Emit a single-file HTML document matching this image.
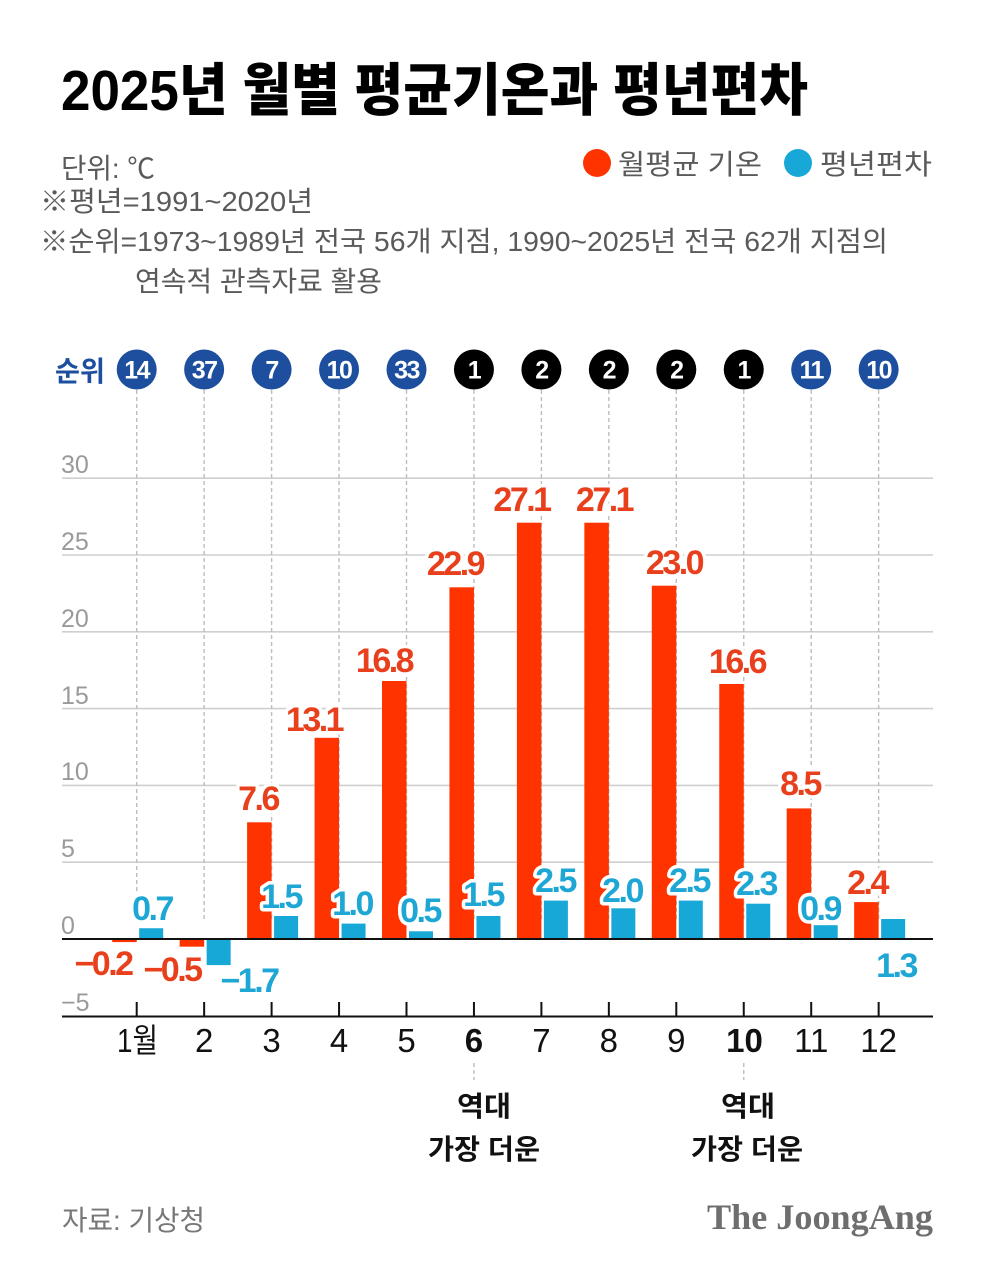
<!DOCTYPE html>
<html><head><meta charset="utf-8"><style>
html,body{margin:0;padding:0;background:#fff;}
svg{display:block;}
.k{font-family:"Liberation Sans","Noto Sans CJK KR",sans-serif;}
.t{font-family:"Liberation Sans","Noto Sans CJK KR",sans-serif;font-weight:900;}
.n{font-family:"Liberation Sans","Noto Sans CJK KR",sans-serif;fill:#5a5a5a;font-size:28px;}
.y{font-family:"Liberation Sans",sans-serif;fill:#9a9a9a;font-size:25px;}
.m{font-family:"Liberation Sans","Noto Sans CJK KR",sans-serif;fill:#111;font-size:33px;text-anchor:middle;}
.lr,.lb{font-family:"Liberation Sans",sans-serif;font-weight:bold;font-size:34px;text-anchor:middle;letter-spacing:-2.5px;stroke:#fff;stroke-width:7px;stroke-linejoin:round;paint-order:stroke;}
.lr{fill:#e8401c;}
.lb{fill:#1ea7d4;}
.rk{font-family:"Liberation Sans",sans-serif;font-weight:bold;font-size:25px;fill:#fff;text-anchor:middle;letter-spacing:-1.5px;}
.hl{font-family:"Liberation Sans","Noto Sans CJK KR",sans-serif;font-weight:bold;font-size:28px;fill:#111;text-anchor:middle;}
</style></head><body>
<svg width="1000" height="1275" viewBox="0 0 1000 1275" xmlns="http://www.w3.org/2000/svg">
<rect width="1000" height="1275" fill="#fff"/>
<!-- Title -->
<text class="t" x="61" y="110" font-size="57" textLength="747" lengthAdjust="spacingAndGlyphs" fill="#000">2025년 월별 평균기온과 평년편차</text>
<!-- Notes -->
<text class="n" x="61" y="178" textLength="94" lengthAdjust="spacingAndGlyphs">단위: ℃</text>
<text class="n" x="40" y="211" textLength="273" lengthAdjust="spacingAndGlyphs">※평년=1991~2020년</text>
<text class="n" x="40" y="251" textLength="848" lengthAdjust="spacingAndGlyphs">※순위=1973~1989년 전국 56개 지점, 1990~2025년 전국 62개 지점의</text>
<text class="n" x="135" y="291" textLength="247" lengthAdjust="spacingAndGlyphs">연속적 관측자료 활용</text>
<!-- Legend -->
<circle cx="597" cy="163" r="14" fill="#ff3300"/>
<text class="n" x="618" y="174" font-size="30" textLength="144" lengthAdjust="spacingAndGlyphs">월평균 기온</text>
<circle cx="798" cy="163" r="14" fill="#17a8d8"/>
<text class="n" x="820" y="174" font-size="30" textLength="112" lengthAdjust="spacingAndGlyphs">평년편차</text>

<!-- Rank label -->
<text class="k" x="55" y="381" font-size="28" font-weight="bold" fill="#1d4f9e" textLength="50" lengthAdjust="spacingAndGlyphs">순위</text>

<!-- Grid lines -->
<g stroke="#cfcfcf" stroke-width="1.6">
<line x1="62" y1="478.2" x2="933" y2="478.2"/>
<line x1="62" y1="555" x2="933" y2="555"/>
<line x1="62" y1="631.8" x2="933" y2="631.8"/>
<line x1="62" y1="708.6" x2="933" y2="708.6"/>
<line x1="62" y1="785.4" x2="933" y2="785.4"/>
<line x1="62" y1="862.2" x2="933" y2="862.2"/>
</g>
<!-- Y labels -->
<text class="y" x="61" y="473">30</text>
<text class="y" x="61" y="550">25</text>
<text class="y" x="61" y="627">20</text>
<text class="y" x="61" y="704">15</text>
<text class="y" x="61" y="780">10</text>
<text class="y" x="61" y="857">5</text>
<text class="y" x="61" y="934">0</text>
<text class="y" x="61" y="1011">−5</text>

<!-- Dashed verticals -->
<g stroke="#bdbdbd" stroke-width="1.4" stroke-dasharray="4,3">
<line x1="136.7" y1="390" x2="136.7" y2="920"/>
<line x1="204.15" y1="390" x2="204.15" y2="920"/>
<line x1="271.6" y1="390" x2="271.6" y2="920"/>
<line x1="339.05" y1="390" x2="339.05" y2="920"/>
<line x1="406.5" y1="390" x2="406.5" y2="920"/>
<line x1="473.95" y1="390" x2="473.95" y2="920"/>
<line x1="541.4" y1="390" x2="541.4" y2="920"/>
<line x1="608.85" y1="390" x2="608.85" y2="920"/>
<line x1="676.3" y1="390" x2="676.3" y2="920"/>
<line x1="743.75" y1="390" x2="743.75" y2="920"/>
<line x1="811.2" y1="390" x2="811.2" y2="920"/>
<line x1="878.65" y1="390" x2="878.65" y2="920"/>
<line x1="473.95" y1="1063" x2="473.95" y2="1080"/>
<line x1="743.75" y1="1063" x2="743.75" y2="1080"/>
</g>

<!-- Rank circles -->
<g>
<circle cx="136.7" cy="369.5" r="20" fill="#1d4f9e"/><text class="rk" x="136.7" y="378.5">14</text>
<circle cx="204.15" cy="369.5" r="20" fill="#1d4f9e"/><text class="rk" x="204.15" y="378.5">37</text>
<circle cx="271.6" cy="369.5" r="20" fill="#1d4f9e"/><text class="rk" x="271.6" y="378.5">7</text>
<circle cx="339.05" cy="369.5" r="20" fill="#1d4f9e"/><text class="rk" x="339.05" y="378.5">10</text>
<circle cx="406.5" cy="369.5" r="20" fill="#1d4f9e"/><text class="rk" x="406.5" y="378.5">33</text>
<circle cx="473.95" cy="369.5" r="20" fill="#000"/><text class="rk" x="473.95" y="378.5">1</text>
<circle cx="541.4" cy="369.5" r="20" fill="#000"/><text class="rk" x="541.4" y="378.5">2</text>
<circle cx="608.85" cy="369.5" r="20" fill="#000"/><text class="rk" x="608.85" y="378.5">2</text>
<circle cx="676.3" cy="369.5" r="20" fill="#000"/><text class="rk" x="676.3" y="378.5">2</text>
<circle cx="743.75" cy="369.5" r="20" fill="#000"/><text class="rk" x="743.75" y="378.5">1</text>
<circle cx="811.2" cy="369.5" r="20" fill="#1d4f9e"/><text class="rk" x="811.2" y="378.5">11</text>
<circle cx="878.65" cy="369.5" r="20" fill="#1d4f9e"/><text class="rk" x="878.65" y="378.5">10</text>
</g>

<!-- Red bars -->
<g fill="#ff3300">
<rect x="112.2" y="939" width="24.5" height="3.1"/>
<rect x="179.65" y="939" width="24.5" height="7.7"/>
<rect x="247.1" y="822.3" width="24.5" height="116.7"/>
<rect x="314.55" y="737.8" width="24.5" height="201.2"/>
<rect x="382" y="681" width="24.5" height="258"/>
<rect x="449.45" y="587.3" width="24.5" height="351.7"/>
<rect x="516.9" y="522.7" width="24.5" height="416.3"/>
<rect x="584.35" y="522.7" width="24.5" height="416.3"/>
<rect x="651.8" y="585.7" width="24.5" height="353.3"/>
<rect x="719.25" y="684" width="24.5" height="255"/>
<rect x="786.7" y="808.4" width="24.5" height="130.6"/>
<rect x="854.15" y="902.1" width="24.5" height="36.9"/>
</g>
<!-- Blue bars -->
<g fill="#17a8d8">
<rect x="139.2" y="928.25" width="24" height="10.75"/>
<rect x="206.65" y="939" width="24" height="26.1"/>
<rect x="274.1" y="916" width="24" height="23"/>
<rect x="341.55" y="923.6" width="24" height="15.4"/>
<rect x="409" y="931.3" width="24" height="7.7"/>
<rect x="476.45" y="916" width="24" height="23"/>
<rect x="543.9" y="900.6" width="24" height="38.4"/>
<rect x="611.35" y="908.3" width="24" height="30.7"/>
<rect x="678.8" y="900.6" width="24" height="38.4"/>
<rect x="746.25" y="903.7" width="24" height="35.3"/>
<rect x="813.7" y="925.2" width="24" height="13.8"/>
<rect x="881.15" y="919" width="24" height="20"/>
</g>

<!-- Zero line & bottom axis -->
<line x1="62" y1="939" x2="933" y2="939" stroke="#111" stroke-width="2"/>
<line x1="62" y1="1016.5" x2="933" y2="1016.5" stroke="#111" stroke-width="2"/>
<g stroke="#111" stroke-width="2">
<line x1="136.7" y1="1002" x2="136.7" y2="1016"/>
<line x1="204.15" y1="1002" x2="204.15" y2="1016"/>
<line x1="271.6" y1="1002" x2="271.6" y2="1016"/>
<line x1="339.05" y1="1002" x2="339.05" y2="1016"/>
<line x1="406.5" y1="1002" x2="406.5" y2="1016"/>
<line x1="473.95" y1="1002" x2="473.95" y2="1016"/>
<line x1="541.4" y1="1002" x2="541.4" y2="1016"/>
<line x1="608.85" y1="1002" x2="608.85" y2="1016"/>
<line x1="676.3" y1="1002" x2="676.3" y2="1016"/>
<line x1="743.75" y1="1002" x2="743.75" y2="1016"/>
<line x1="811.2" y1="1002" x2="811.2" y2="1016"/>
<line x1="878.65" y1="1002" x2="878.65" y2="1016"/>
</g>

<!-- Red labels -->
<text class="lr" x="103" y="975">−0.2</text>
<text class="lr" x="172" y="981">−0.5</text>
<text class="lr" x="258" y="810">7.6</text>
<text class="lr" x="314" y="731">13.1</text>
<text class="lr" x="384" y="672">16.8</text>
<text class="lr" x="455" y="575">22.9</text>
<text class="lr" x="521.5" y="511">27.1</text>
<text class="lr" x="604" y="511">27.1</text>
<text class="lr" x="674" y="574">23.0</text>
<text class="lr" x="737" y="673">16.6</text>
<text class="lr" x="800" y="795">8.5</text>
<text class="lr" x="867" y="894">2.4</text>

<!-- Blue labels -->
<text class="lb" x="152" y="920">0.7</text>
<text class="lb" x="249" y="992">−1.7</text>
<text class="lb" x="281" y="908">1.5</text>
<text class="lb" x="352" y="915">1.0</text>
<text class="lb" x="420" y="922">0.5</text>
<text class="lb" x="483" y="906">1.5</text>
<text class="lb" x="555" y="892">2.5</text>
<text class="lb" x="622" y="902">2.0</text>
<text class="lb" x="689" y="892">2.5</text>
<text class="lb" x="756" y="895">2.3</text>
<text class="lb" x="820" y="920">0.9</text>
<text class="lb" x="896" y="977">1.3</text>

<!-- Month labels -->
<text class="m" x="137.5" y="1052" textLength="41" lengthAdjust="spacingAndGlyphs">1월</text>
<text class="m" x="204.15" y="1052">2</text>
<text class="m" x="271.6" y="1052">3</text>
<text class="m" x="339.05" y="1052">4</text>
<text class="m" x="406.5" y="1052">5</text>
<text class="m" x="473.95" y="1052" font-weight="bold">6</text>
<text class="m" x="541.4" y="1052">7</text>
<text class="m" x="608.85" y="1052">8</text>
<text class="m" x="676.3" y="1052">9</text>
<text class="m" x="744.5" y="1052" font-weight="bold">10</text>
<text class="m" x="811.2" y="1052">11</text>
<text class="m" x="878.65" y="1052">12</text>

<!-- Annotations -->
<text class="hl" x="484" y="1116" textLength="54" lengthAdjust="spacingAndGlyphs">역대</text>
<text class="hl" x="484" y="1159" textLength="112" lengthAdjust="spacingAndGlyphs">가장 더운</text>
<text class="hl" x="748" y="1116" textLength="54" lengthAdjust="spacingAndGlyphs">역대</text>
<text class="hl" x="747" y="1159" textLength="112" lengthAdjust="spacingAndGlyphs">가장 더운</text>

<!-- Footer -->
<text class="n" x="62" y="1230" style="fill:#777" textLength="143" lengthAdjust="spacingAndGlyphs">자료: 기상청</text>
<text x="707" y="1229" font-family="Liberation Serif, serif" font-weight="bold" font-size="36" fill="#6e6e6e" textLength="226" lengthAdjust="spacingAndGlyphs">The JoongAng</text>
</svg>
</body></html>
